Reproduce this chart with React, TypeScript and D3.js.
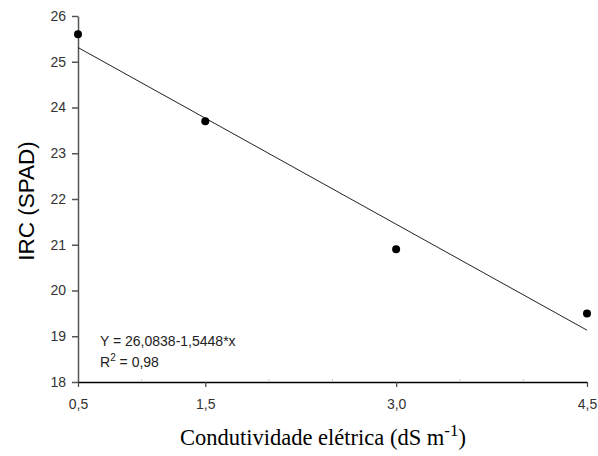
import * as d3 from "d3";
import { useRef, useEffect } from "react";

// observed values
const salinity = [0.5, 1.5, 3.0, 4.5];
const irc = [25.6, 23.7, 20.9, 19.5];

// tick labels
const xTicks = [0.5, 1.5, 3.0, 4.5];
const xMinor = [1.0, 2.0, 2.5, 3.5, 4.0];
const yTicks = [18, 19, 20, 21, 22, 23, 24, 25, 26];

// fitted regression
const intercept = 26.0838;
const slope = -1.5448;

export default function App() {
  const svgRef = useRef<SVGSVGElement>(null);

  useEffect(() => {
    const svg = d3.select(svgRef.current);
    svg.selectAll("*").remove();

    const x = d3.scaleLinear().domain([0.5, 4.5]).range([78, 587]);
    const y = d3.scaleLinear().domain([18, 26]).range([382, 16]);
    const fmt = (v: number) => v.toFixed(1).replace(".", ",");
    const sans = "Arial, 'Liberation Sans', sans-serif";

    // y axis
    const gy = svg.append("g").attr("transform", "translate(78,0)");
    gy.call(d3.axisLeft(y).tickValues(yTicks).tickSize(6).tickSizeOuter(0).tickPadding(6).tickFormat(d3.format("d")));
    gy.select(".domain").attr("stroke", "#555").attr("stroke-width", 1.5);
    gy.selectAll(".tick line").attr("stroke", "#555").attr("stroke-width", 1.5);
    gy.selectAll("text").attr("fill", "#333").style("font-family", sans).style("font-size", "14px");

    // x axis
    const gx = svg.append("g").attr("transform", "translate(0,382)");
    gx.call(d3.axisBottom(x).tickValues(xTicks).tickSize(5).tickSizeOuter(0).tickPadding(12).tickFormat((d) => fmt(d as number)));
    gx.select(".domain").attr("stroke", "#000").attr("stroke-width", 1.5);
    gx.selectAll(".tick line").attr("stroke", "#444").attr("stroke-width", 1.2);
    gx.selectAll("text").attr("fill", "#333").style("font-family", sans).style("font-size", "14px");

    // faint minor ticks
    svg.append("g").selectAll("line").data(xMinor).enter().append("line")
      .attr("x1", d => x(d)).attr("x2", d => x(d)).attr("y1", 379).attr("y2", 382)
      .attr("stroke", "#ccc").attr("stroke-width", 1);

    // regression line
    const line = d3.line<number>().x(d => x(d)).y(d => y(intercept + slope * d));
    svg.append("path").datum([0.5, 4.5]).attr("d", line).attr("fill", "none").attr("stroke", "#222").attr("stroke-width", 1);

    // points
    svg.append("g").selectAll("circle").data(salinity).enter().append("circle")
      .attr("cx", d => x(d)).attr("cy", (d, i) => y(irc[i])).attr("r", 4).attr("fill", "#000");

    // equation
    svg.append("text").attr("x", 100).attr("y", 346).attr("fill", "#222")
      .style("font-family", sans).style("font-size", "14px")
      .text("Y = 26,0838-1,5448*x");
    const r2 = svg.append("text").attr("x", 100).attr("y", 367).attr("fill", "#222")
      .style("font-family", sans).style("font-size", "14px");
    r2.append("tspan").text("R");
    r2.append("tspan").attr("dy", -6).style("font-size", "10px").text("2");
    r2.append("tspan").attr("dy", 6).text(" = 0,98");

    // y label
    svg.append("text").attr("transform", "translate(34,201) rotate(-90)").attr("text-anchor", "middle")
      .style("font-family", sans).style("font-size", "22.5px").attr("fill", "#000")
      .text("IRC (SPAD)");

    // x label
    const xl = svg.append("text").attr("x", 323).attr("y", 445).attr("text-anchor", "middle")
      .style("font-family", "'Liberation Serif', 'Times New Roman', serif").style("font-size", "22.5px").attr("fill", "#000");
    xl.append("tspan").text("Condutividade elétrica (dS m");
    xl.append("tspan").attr("dy", -9).style("font-size", "17px").text("-1");
    xl.append("tspan").attr("dy", 9).text(")");
  }, []);

  return (
    <svg ref={svgRef} width={598} height={456} style={{ position: "absolute", left: 0, top: 0, background: "#fff" }} />
  );
}
